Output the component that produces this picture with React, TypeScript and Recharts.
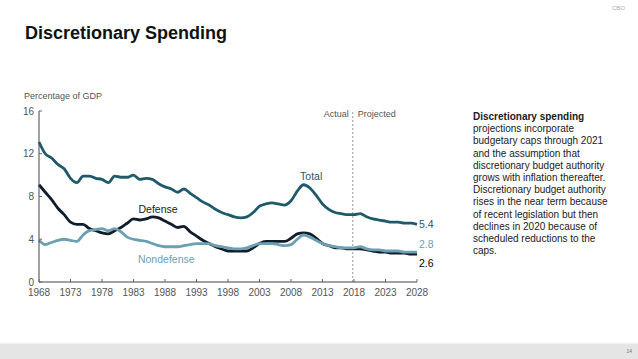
import React from 'react';
import { LineChart, Line, XAxis, YAxis, ReferenceLine, ReferenceDot } from 'recharts';

// fiscal years, actual through 2017, projected after
const years = [
  1968, 1969, 1970, 1971, 1972, 1973, 1974, 1975, 1976, 1977,
  1978, 1979, 1980, 1981, 1982, 1983, 1984, 1985, 1986, 1987,
  1988, 1989, 1990, 1991, 1992, 1993, 1994, 1995, 1996, 1997,
  1998, 1999, 2000, 2001, 2002, 2003, 2004, 2005, 2006, 2007,
  2008, 2009, 2010, 2011, 2012, 2013, 2014, 2015, 2016, 2017,
  2018, 2019, 2020, 2021, 2022, 2023, 2024, 2025, 2026, 2027, 2028,
];

const total = [
  13.1, 12.0, 11.6, 11.0, 10.6, 9.7, 9.3, 9.9, 9.9, 9.7,
  9.6, 9.3, 9.9, 9.8, 9.8, 10.0, 9.6, 9.7, 9.6, 9.2,
  8.9, 8.7, 8.4, 8.7, 8.3, 7.9, 7.5, 7.2, 6.8, 6.5,
  6.3, 6.1, 6.0, 6.1, 6.5, 7.1, 7.3, 7.4, 7.3, 7.2,
  7.6, 8.5, 9.1, 8.8, 8.1, 7.3, 6.8, 6.5, 6.4, 6.3,
  6.3, 6.4, 6.1, 5.9, 5.8, 5.7, 5.6, 5.6, 5.5, 5.5, 5.4,
];

const defense = [
  9.1, 8.4, 7.7, 6.9, 6.3, 5.6, 5.4, 5.4, 5.0, 4.8,
  4.6, 4.5, 4.8, 5.1, 5.5, 5.9, 5.8, 5.9, 6.1, 6.0,
  5.7, 5.4, 5.1, 5.2, 4.7, 4.3, 3.9, 3.6, 3.3, 3.1,
  2.9, 2.9, 2.9, 2.9, 3.2, 3.6, 3.8, 3.8, 3.8, 3.8,
  4.1, 4.5, 4.6, 4.5, 4.1, 3.6, 3.4, 3.2, 3.2, 3.1,
  3.1, 3.1, 3.0, 2.9, 2.8, 2.8, 2.7, 2.7, 2.7, 2.6, 2.6,
];

const nondefense = [
  3.9, 3.5, 3.7, 3.9, 4.0, 3.9, 3.8, 4.4, 4.8, 4.9,
  5.0, 4.8, 5.0, 4.7, 4.2, 4.0, 3.9, 3.8, 3.6, 3.4,
  3.3, 3.3, 3.3, 3.4, 3.5, 3.6, 3.6, 3.6, 3.4, 3.3,
  3.2, 3.1, 3.1, 3.2, 3.4, 3.6, 3.6, 3.6, 3.5, 3.4,
  3.5, 4.0, 4.4, 4.2, 3.9, 3.6, 3.4, 3.3, 3.2, 3.2,
  3.2, 3.3, 3.1, 3.0, 3.0, 2.9, 2.9, 2.9, 2.8, 2.8, 2.8,
];

const xTicks = [1968, 1973, 1978, 1983, 1988, 1993, 1998, 2003, 2008, 2013, 2018, 2023, 2028];
const yTicks = [0, 4, 8, 12, 16];

const note = [
  'projections incorporate',
  'budgetary caps through 2021',
  'and the assumption that',
  'discretionary budget authority',
  'grows with inflation thereafter.',
  'Discretionary budget authority',
  'rises in the near term because',
  'of recent legislation but then',
  'declines in 2020 because of',
  'scheduled reductions to the',
  'caps.',
];

const data = years.map((year, i) => ({
  year,
  total: total[i],
  defense: defense[i],
  nondefense: nondefense[i],
}));

const FONT = '"Liberation Sans", Arial, sans-serif';
const TOTAL = '#1f5a6a';
const DEF = '#0f1d2a';
const NONDEF = '#6c9fb1';
const last = years.length - 1;

function XTick({ x, y, payload }: any) {
  return (
    <g>
      <line x1={x} x2={x} y1={y - 3} y2={y} stroke="#666" />
      <text x={x} y={y + 14} textAnchor="middle" fontSize={10} fill="#555" fontFamily={FONT}>
        {payload.value}
      </text>
    </g>
  );
}

function YTick({ x, y, payload }: any) {
  return (
    <g>
      <line x1={x} x2={x + 3} y1={y} y2={y} stroke="#666" />
      <text x={x - 5} y={y + 3.5} textAnchor="end" fontSize={10} fill="#555" fontFamily={FONT}>
        {payload.value}
      </text>
    </g>
  );
}

const tag = (text: string, color: string, dx: number, dy: number, anchor = 'start') => (props: any) => {
  const { x, y } = props.viewBox;
  return (
    <text x={x + dx} y={y + dy + 3.5} textAnchor={anchor} fill={color} fontSize={10.5} fontFamily={FONT}>
      {text}
    </text>
  );
};

const splitLabel = (props: any) => {
  const { x, y } = props.viewBox;
  return (
    <g fontSize={9} fill="#555" fontFamily={FONT}>
      <text x={x - 4} y={y + 6} textAnchor="end">Actual</text>
      <text x={x + 5} y={y + 6} textAnchor="start">Projected</text>
    </g>
  );
};

export default function App() {
  return (
    <div
      style={{
        position: 'absolute',
        left: 0,
        top: 0,
        width: 638,
        height: 359,
        overflow: 'hidden',
        background: '#fff',
        fontFamily: FONT,
      }}
    >
      <div style={{ position: 'absolute', left: 612, top: 5, fontSize: 6, color: '#aaa' }}>CBO</div>
      <div
        style={{
          position: 'absolute',
          left: 25,
          top: 22,
          fontSize: 18,
          lineHeight: '22px',
          fontWeight: 'bold',
          color: '#111',
        }}
      >
        Discretionary Spending
      </div>
      <div style={{ position: 'absolute', left: 24, top: 91, fontSize: 9, color: '#555' }}>
        Percentage of GDP
      </div>

      <div style={{ position: 'absolute', left: 0, top: 0 }}>
        <LineChart
          width={638}
          height={359}
          data={data}
          margin={{ top: 111, right: 221, bottom: 47, left: 9 }}
        >
          <XAxis
            dataKey="year"
            type="number"
            domain={[1968, 2028]}
            ticks={xTicks}
            tick={<XTick />}
            tickLine={false}
            tickSize={0}
            tickMargin={0}
            height={30}
            stroke="#444"
            interval={0}
          />
          <YAxis
            type="number"
            domain={[0, 16]}
            ticks={yTicks}
            tick={<YTick />}
            tickLine={false}
            tickSize={0}
            tickMargin={0}
            width={30}
            stroke="#444"
            interval={0}
          />
          <ReferenceLine x={2017.8} stroke="#999" strokeDasharray="2 2" label={splitLabel} />
          <Line
            type="monotone"
            dataKey="defense"
            stroke={DEF}
            strokeWidth={2.8}
            dot={false}
            activeDot={false}
            isAnimationActive={false}
          />
          <Line
            type="monotone"
            dataKey="nondefense"
            stroke={NONDEF}
            strokeWidth={2.8}
            dot={false}
            activeDot={false}
            isAnimationActive={false}
          />
          <Line
            type="monotone"
            dataKey="total"
            stroke={TOTAL}
            strokeWidth={2.8}
            dot={false}
            activeDot={false}
            isAnimationActive={false}
          />
          <ReferenceDot x={2011.2} y={9.9} r={0} stroke="none" label={tag('Total', TOTAL, 0, 0, 'middle')} />
          <ReferenceDot x={1986.9} y={6.8} r={0} stroke="none" label={tag('Defense', DEF, 0, 0, 'middle')} />
          <ReferenceDot x={1988.2} y={2.15} r={0} stroke="none" label={tag('Nondefense', NONDEF, 0, 0, 'middle')} />
          <ReferenceDot
            x={years[last]}
            y={total[last]}
            r={0}
            stroke="none"
            label={tag(total[last].toFixed(1), TOTAL, 2, 0)}
          />
          <ReferenceDot
            x={years[last]}
            y={nondefense[last]}
            r={0}
            stroke="none"
            label={tag(nondefense[last].toFixed(1), NONDEF, 2, -8)}
          />
          <ReferenceDot
            x={years[last]}
            y={defense[last]}
            r={0}
            stroke="none"
            label={tag(defense[last].toFixed(1), '#000', 2, 9)}
          />
        </LineChart>
      </div>

      <div
        style={{
          position: 'absolute',
          left: 473,
          top: 111,
          fontSize: 10,
          lineHeight: '12.2px',
          color: '#1a1a1a',
          whiteSpace: 'nowrap',
        }}
      >
        <div style={{ fontWeight: 'bold' }}>Discretionary spending</div>
        {note.map((line) => (
          <div key={line}>{line}</div>
        ))}
      </div>

      <div
        style={{
          position: 'absolute',
          left: 0,
          top: 343,
          width: 638,
          height: 16,
          background: '#e5e5e5',
          borderTop: '1px solid #eeeeee',
        }}
      >
        <div style={{ position: 'absolute', right: 6, top: 4, fontSize: 5, color: '#777' }}>14</div>
      </div>
    </div>
  );
}
